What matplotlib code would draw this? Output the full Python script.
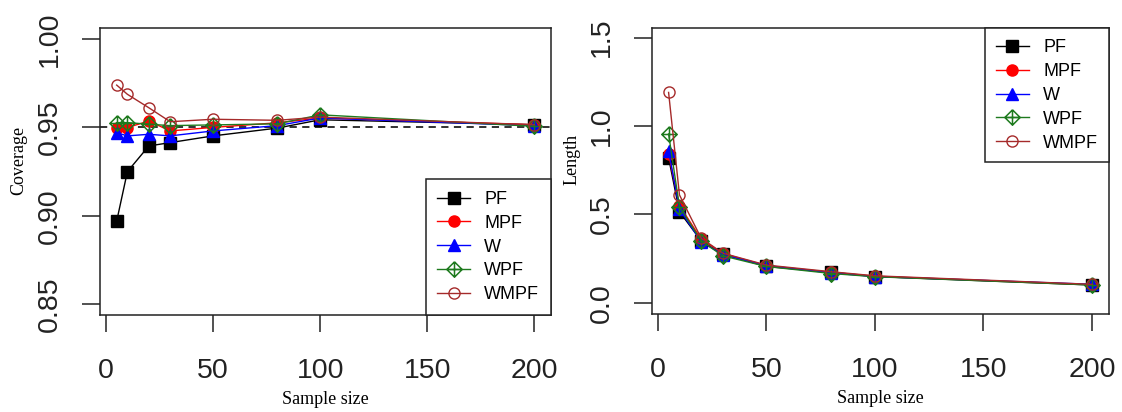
import numpy as np
import matplotlib.pyplot as plt
from matplotlib.path import Path

# ==========================================
# 数据
# ==========================================
sample_size = [5, 10, 20, 30, 50, 80, 100, 200]
methods = ["PF", "MPF", "W", "WPF", "WMPF"]

# coverage
cov_pf = [0.897, 0.925, 0.9395, 0.9414, 0.9452, 0.9496, 0.9543, 0.9515]
cov_mpf = [0.9499, 0.9499, 0.9536, 0.948, 0.950, 0.9526, 0.9553, 0.9515]
cov_w = [0.947, 0.9452, 0.9461, 0.9452, 0.948, 0.951, 0.9553, 0.951]
cov_wpf = [0.9527, 0.9527, 0.9518, 0.951, 0.9514, 0.952, 0.9571, 0.9506]
cov_wmpf = [0.9739, 0.9687, 0.9611, 0.9532, 0.9546, 0.954, 0.9558, 0.9515]

# length
len_pf = [0.82, 0.515, 0.35, 0.275, 0.205, 0.172, 0.148, 0.10]
len_mpf = [0.84, 0.55, 0.36, 0.278, 0.21, 0.172, 0.15, 0.102]
len_w = [0.86, 0.53, 0.345, 0.272, 0.21, 0.168, 0.148, 0.104]
len_wpf = [0.955, 0.543, 0.35, 0.265, 0.205, 0.165, 0.147, 0.10]
len_wmpf = [1.19, 0.61, 0.365, 0.28, 0.213, 0.175, 0.152, 0.104]

nominal = 0.95

# ==========================================
# 样式 (R base-graphics look)
# ==========================================
# pch 9: diamond with a plus inside
dp_verts = [(0, 1), (1, 0), (0, -1), (-1, 0), (0, 1),
            (-1, 0), (1, 0), (0, -1), (0, 1)]
dp_codes = [Path.MOVETO, Path.LINETO, Path.LINETO, Path.LINETO, Path.LINETO,
            Path.MOVETO, Path.LINETO, Path.MOVETO, Path.LINETO]
diamond_plus = Path(dp_verts, dp_codes)

styles = {
    "PF":   dict(color="black", marker="s", ms=8, mfc="black"),
    "MPF":  dict(color="#FF0000", marker="o", ms=8, mfc="#FF0000"),
    "W":    dict(color="#0000FF", marker="^", ms=8.5, mfc="#0000FF"),
    "WPF":  dict(color="#1E7A1E", marker=diamond_plus, ms=11, mfc="none", mew=1.1),
    "WMPF": dict(color="#A52A2A", marker="o", ms=8, mfc="none", mew=1.0),
}

tick_font = dict(family="Liberation Sans", size=20.5)
lab_font = dict(family="Liberation Serif", size=13)
leg_font = dict(family="Liberation Sans", size=13)


def style_axes(ax, xlim, ylim, yticks, yfmt, ylabel):
    ax.set_xlim(*xlim)
    ax.set_ylim(*ylim)
    ax.set_xticks([0, 50, 100, 150, 200])
    ax.set_xticklabels(["0", "50", "100", "150", "200"], **tick_font)
    ax.set_yticks(yticks)
    ax.set_yticklabels([yfmt.format(v) for v in yticks], rotation=90,
                       va="center", **tick_font)
    ax.tick_params(axis="x", direction="out", length=12.5, width=1.1, pad=18.5,
                   colors="#222222")
    ax.tick_params(axis="y", direction="out", length=13, width=1.1, pad=13.5,
                   colors="#222222")
    for s in ax.spines.values():
        s.set_linewidth(1.1)
        s.set_color("#222222")
    ax.set_xlabel("Sample size", **lab_font)
    ax.set_ylabel(ylabel, **lab_font)


fig = plt.figure(figsize=(11.22, 4.12), dpi=100)
ax1 = fig.add_axes([0.0891, 0.2354, 0.4020, 0.6960])
ax2 = fig.add_axes([0.5808, 0.2379, 0.4076, 0.6934])

# ==========================================
# 左图: Coverage
# ==========================================
ax1.axhline(nominal, color="#222222", linestyle=(0, (4, 3)), lw=1.3, zorder=1)
for m, vals in zip(methods, [cov_pf, cov_mpf, cov_w, cov_wpf, cov_wmpf]):
    ax1.plot(sample_size, vals, lw=1.0, label=m, **styles[m])
style_axes(ax1, (-2.8, 207.8), (0.844, 1.006), [0.85, 0.90, 0.95, 1.00],
           "{:.2f}", "Coverage")
ax1.xaxis.set_label_coords(0.5, -0.296)
ax1.xaxis.label.set_va("center")
ax1.yaxis.set_label_coords(-0.18, 0.54)
ax1.yaxis.label.set_va("center")

leg1 = ax1.legend(loc="lower right", borderaxespad=0, fancybox=False,
                  framealpha=1, edgecolor="#222222", prop=leg_font,
                  handlelength=1.8, handletextpad=0.8, labelspacing=0.38,
                  borderpad=0.65)
leg1.get_frame().set_linewidth(1.1)

# ==========================================
# 右图: Length
# ==========================================
for m, vals in zip(methods, [len_pf, len_mpf, len_w, len_wpf, len_wmpf]):
    ax2.plot(sample_size, vals, lw=1.0, label=m, **styles[m])
style_axes(ax2, (-2.8, 207.8), (-0.064, 1.553), [0.0, 0.5, 1.0, 1.5],
           "{:.1f}", "Length")
ax2.xaxis.set_label_coords(0.5, -0.296)
ax2.xaxis.label.set_va("center")
ax2.yaxis.set_label_coords(-0.175, 0.54)
ax2.yaxis.label.set_va("center")

leg2 = ax2.legend(loc="upper right", borderaxespad=0, fancybox=False,
                  framealpha=1, edgecolor="#222222", prop=leg_font,
                  handlelength=1.8, handletextpad=0.8, labelspacing=0.38,
                  borderpad=0.6)
leg2.get_frame().set_linewidth(1.1)

fig.savefig("out.png", dpi=100)
